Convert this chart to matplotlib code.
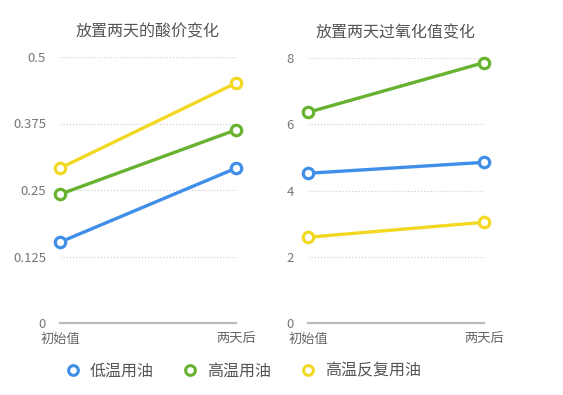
import matplotlib
matplotlib.use("Agg")
import matplotlib.pyplot as plt

plt.rcParams['font.family'] = ['Noto Sans CJK SC', 'DejaVu Sans']

categories = ["初始值", "两天后"]
series_names = ["低温用油", "高温用油", "高温反复用油"]
colors = ["#3F8FE8", "#67B22F", "#F2D823"]

acid_values = {
    "低温用油": [0.152, 0.291],
    "高温用油": [0.242, 0.363],
    "高温反复用油": [0.291, 0.451],
}
acid_ticks = [0, 0.125, 0.25, 0.375, 0.5]
acid_ticklabels = ["0", "0.125", "0.25", "0.375", "0.5"]

perox_values = {
    "低温用油": [4.52, 4.85],
    "高温用油": [6.36, 7.86],
    "高温反复用油": [2.59, 3.04],
}
perox_ticks = [0, 2, 4, 6, 8]
perox_ticklabels = ["0", "2", "4", "6", "8"]

titles = ["放置两天的酸价变化", "放置两天过氧化值变化"]

W, H = 563, 395
fig = plt.figure(figsize=(W / 100, H / 100), dpi=100)

def make_axes(x0, x1, y_top, y_bottom):
    return fig.add_axes([x0 / W, 1 - y_bottom / H, (x1 - x0) / W, (y_bottom - y_top) / H])

ax1 = make_axes(60, 236, 57, 323)
ax2 = make_axes(308, 484, 58, 323)

handles = []
for ax, data, ticks, tlabels, title in [
    (ax1, acid_values, acid_ticks, acid_ticklabels, titles[0]),
    (ax2, perox_values, perox_ticks, perox_ticklabels, titles[1]),
]:
    xs = list(range(len(categories)))
    for name, c in zip(series_names, colors):
        ln, = ax.plot(xs, data[name], color=c, lw=2.4, marker='o', ms=7.5,
                      mfc='white', mec=c, mew=2.3, clip_on=False, zorder=3)
        if ax is ax1:
            handles.append(ln)
    ax.set_xlim(0, 1)
    ax.set_ylim(ticks[0], ticks[-1])
    ax.set_yticks(ticks)
    ax.set_yticklabels(tlabels)
    ax.set_xticks(xs)
    ax.set_xticklabels(categories)
    for s in ax.spines.values():
        s.set_visible(False)
    for t in ticks[1:]:
        ax.axhline(t, color='#d2d2d2', lw=0.9, ls=(0, (1, 1.5)), zorder=1)
    ax.axhline(0, color='#bbbbbb', lw=1.6, zorder=1, clip_on=False)
    ax.tick_params(axis='y', length=0, pad=10, labelsize=9.5, labelcolor='#777777')
    ax.tick_params(axis='x', length=0, pad=7, labelsize=9.5, labelcolor='#666666')
    ax.set_title(title, fontsize=11.5, color='#555555', pad=15)

leg = fig.legend(handles, series_names, loc='center', bbox_to_anchor=(242 / W, 1 - 371 / H),
                 ncol=3, frameon=False, fontsize=11.5, handlelength=1.2, handletextpad=0.45,
                 columnspacing=1.7, labelcolor='#555555')
for h in leg.legend_handles:
    h.set_linestyle('none')
    h.set_markersize(7)
    h.set_markeredgewidth(2.2)

fig.savefig("out.png", dpi=100, facecolor='white')
